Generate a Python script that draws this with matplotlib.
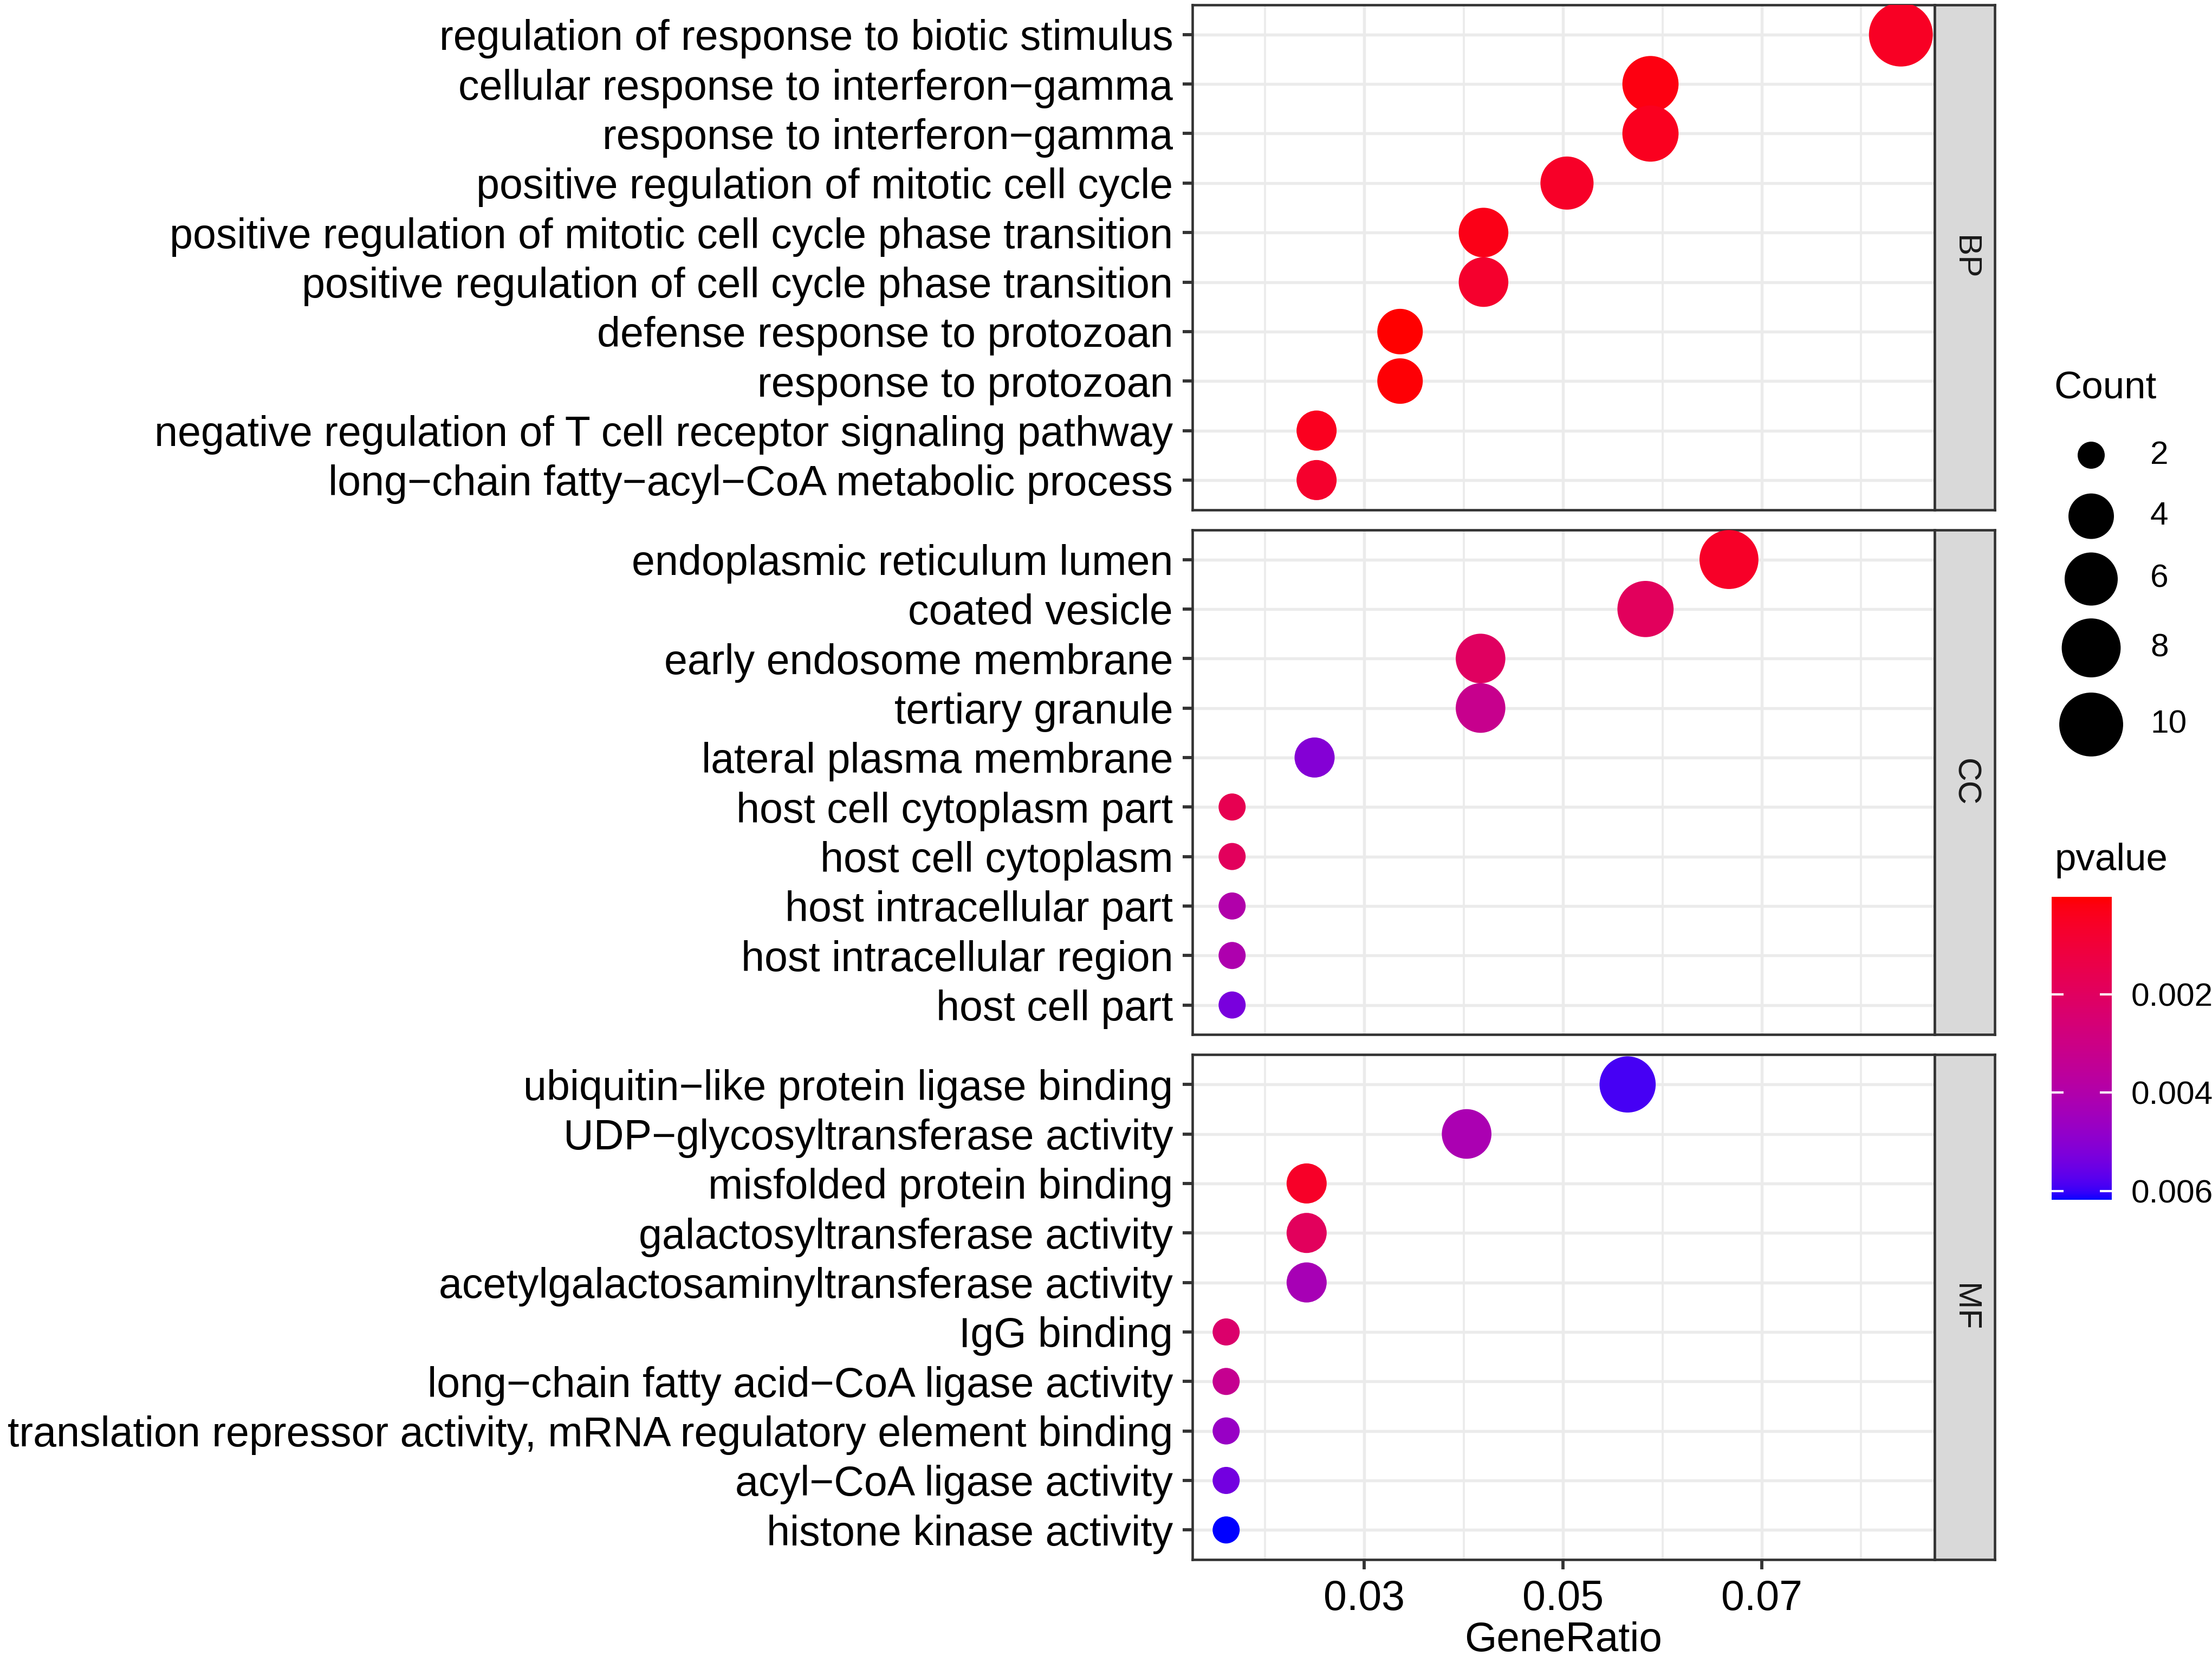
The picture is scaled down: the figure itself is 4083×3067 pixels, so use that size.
import numpy as np
import matplotlib
matplotlib.use('Agg')
import matplotlib.pyplot as plt
import matplotlib.colors as mcolors
from matplotlib.cm import ScalarMappable

plt.rcParams['font.family'] = ['Liberation Sans', 'DejaVu Sans']

# ── dados: enriquecimento GO (BP / CC / MF) ──
bp_terms = ['regulation of response to biotic stimulus',
            'cellular response to interferon−gamma',
            'response to interferon−gamma',
            'positive regulation of mitotic cell cycle',
            'positive regulation of mitotic cell cycle phase transition',
            'positive regulation of cell cycle phase transition',
            'defense response to protozoan',
            'response to protozoan',
            'negative regulation of T cell receptor signaling pathway',
            'long−chain fatty−acyl−CoA metabolic process']
bp_ratio = [0.0840, 0.0588, 0.0588, 0.0504, 0.0420, 0.0420, 0.0336, 0.0336, 0.0252, 0.0252]
bp_count = [10, 7, 7, 6, 5, 5, 4, 4, 3, 3]
bp_pvalue = [0.0005, 0.0002, 0.0004, 0.0006, 0.0003, 0.0007, 0.000013, 0.00007, 0.0004, 0.0007]

cc_terms = ['endoplasmic reticulum lumen',
            'coated vesicle',
            'early endosome membrane',
            'tertiary granule',
            'lateral plasma membrane',
            'host cell cytoplasm part',
            'host cell cytoplasm',
            'host intracellular part',
            'host intracellular region',
            'host cell part']
cc_ratio = [0.0667, 0.0583, 0.0417, 0.0417, 0.0250, 0.0167, 0.0167, 0.0167, 0.0167, 0.0167]
cc_count = [8, 7, 5, 5, 3, 2, 2, 2, 2, 2]
cc_pvalue = [0.0006, 0.0019, 0.0020, 0.0032, 0.0051, 0.0016, 0.0019, 0.0040, 0.0041, 0.0053]

mf_terms = ['ubiquitin−like protein ligase binding',
            'UDP−glycosyltransferase activity',
            'misfolded protein binding',
            'galactosyltransferase activity',
            'acetylgalactosaminyltransferase activity',
            'IgG binding',
            'long−chain fatty acid−CoA ligase activity',
            'translation repressor activity, mRNA regulatory element binding',
            'acyl−CoA ligase activity',
            'histone kinase activity']
mf_ratio = [0.0565, 0.0403, 0.0242, 0.0242, 0.0242, 0.0161, 0.0161, 0.0161, 0.0161, 0.0161]
mf_count = [7, 5, 3, 3, 3, 2, 2, 2, 2, 2]
mf_pvalue = [0.0059, 0.0042, 0.0006, 0.0019, 0.0043, 0.0023, 0.0033, 0.0047, 0.0054, 0.00618]

x_ticks = [0.03, 0.05, 0.07]
x_minor = [0.02, 0.04, 0.06, 0.08]
size_breaks = [2, 4, 6, 8, 10]
p_ticks = [0.002, 0.004, 0.006]

panels = [('BP', bp_terms, bp_ratio, bp_count, bp_pvalue),
          ('CC', cc_terms, cc_ratio, cc_count, cc_pvalue),
          ('MF', mf_terms, mf_ratio, mf_count, mf_pvalue)]

# ── layout em pixels da imagem final ──
W, H = 4083, 3067


def box(x0, y0, x1, y1):
    return [x0 / W, 1 - y1 / H, (x1 - x0) / W, (y1 - y0) / H]


# ── escala de cor vermelho -> azul interpolada em Lab (como ggplot) ──
WHITE = np.array([0.95047, 1.0, 1.08883])
M = np.array([[0.4124, 0.3576, 0.1805],
              [0.2126, 0.7152, 0.0722],
              [0.0193, 0.1192, 0.9505]])


def to_lab(color):
    rgb = np.array(mcolors.to_rgb(color))
    lin = np.where(rgb <= 0.04045, rgb / 12.92, ((rgb + 0.055) / 1.055) ** 2.4)
    xyz = M @ lin / WHITE
    d = 6 / 29
    f = np.where(xyz > d ** 3, np.cbrt(xyz), xyz / (3 * d ** 2) + 4 / 29)
    return np.array([116 * f[1] - 16, 500 * (f[0] - f[1]), 200 * (f[1] - f[2])])


def from_lab(lab):
    fy = (lab[0] + 16) / 116
    f = np.array([fy + lab[1] / 500, fy, fy - lab[2] / 200])
    d = 6 / 29
    xyz = np.where(f > d, f ** 3, 3 * d ** 2 * (f - 4 / 29)) * WHITE
    lin = np.linalg.solve(M, xyz)
    lin = np.clip(lin, 0, 1)
    rgb = np.where(lin <= 0.0031308, 12.92 * lin, 1.055 * lin ** (1 / 2.4) - 0.055)
    return np.clip(rgb, 0, 1)


lab_lo, lab_hi = to_lab('red'), to_lab('blue')
cmap = mcolors.ListedColormap([from_lab((1 - t) * lab_lo + t * lab_hi)
                               for t in np.linspace(0, 1, 256)])
all_p = np.concatenate([bp_pvalue, cc_pvalue, mf_pvalue])
norm = mcolors.Normalize(all_p.min(), all_p.max())


def dot_size(c):
    d = 12 + 16.3 * np.sqrt((np.asarray(c, dtype=float) - 2) / 8)
    return d ** 2


all_x = np.concatenate([bp_ratio, cc_ratio, mf_ratio])
pad = 0.05 * (all_x.max() - all_x.min())
xlim = (all_x.min() - pad, all_x.max() + pad)

fig = plt.figure(figsize=(W / 300, H / 300), dpi=300)

panel_h = 931.7
gap = 37
for i, (name, terms, ratio, count, pv) in enumerate(panels):
    top = 9 + i * (panel_h + gap)
    bottom = top + panel_h
    ax = fig.add_axes(box(2201, top, 3571, bottom))
    y = np.arange(len(terms))
    ax.scatter(ratio, y, s=dot_size(count), c=pv, cmap=cmap, norm=norm,
               linewidths=0, zorder=3)
    ax.set_xlim(*xlim)
    ax.set_ylim(len(terms) - 0.4, -0.6)
    ax.set_yticks(y)
    ax.set_yticklabels(terms)
    ax.set_xticks(x_ticks)
    ax.set_xticks(x_minor, minor=True)
    ax.set_axisbelow(True)
    ax.grid(which='major', color='#EBEBEB', linewidth=1.3)
    ax.grid(which='minor', axis='x', color='#EBEBEB', linewidth=0.9)
    ax.tick_params(which='major', length=4.3, width=1.4, color='#333333',
                   pad=4.3, labelsize=18.5, labelcolor='black')
    ax.tick_params(which='minor', length=0)
    for s in ax.spines.values():
        s.set_color('#333333')
        s.set_linewidth(1.1)
    if i < 2:
        ax.tick_params(axis='x', bottom=False, labelbottom=False)
    else:
        ax.set_xticklabels([f'{v:.2f}' for v in x_ticks])

    # faixa lateral do facet
    sax = fig.add_axes(box(3571, top, 3682, bottom))
    sax.set_facecolor('#D9D9D9')
    sax.set_xticks([])
    sax.set_yticks([])
    for s in sax.spines.values():
        s.set_color('#333333')
        s.set_linewidth(1.1)
    sax.text(0.5, 0.5, name, rotation=-90, ha='center', va='center',
             fontsize=14.5, color='#1A1A1A', transform=sax.transAxes)

fig.text((2201 + 3571) / 2 / W, 1 - 3028 / H, 'GeneRatio', ha='center', va='center',
         fontsize=18.3)

# ── legenda de tamanho (Count) ──
lax = fig.add_axes([0, 0, 1, 1], zorder=-1)
lax.set_xlim(0, W)
lax.set_ylim(H, 0)
lax.axis('off')
key_y = [840, 952.6, 1068.5, 1195.6, 1337]
lax.text(3791, 717, 'Count', ha='left', va='center', fontsize=17)
lax.scatter([3860] * len(size_breaks), key_y, s=dot_size(size_breaks), color='black',
            linewidths=0)
for b, ky in zip(size_breaks, key_y):
    lax.text(3969, ky, str(b), ha='left', va='center', fontsize=14.5)

# ── barra de cor (pvalue) ──
lax.text(3792, 1588, 'pvalue', ha='left', va='center', fontsize=17)
cax = fig.add_axes(box(3787, 1655, 3898, 2214))
cb = fig.colorbar(ScalarMappable(norm=norm, cmap=cmap), cax=cax)
cb.outline.set_visible(False)
cax.invert_yaxis()
cb.set_ticks(p_ticks)
cb.set_ticklabels([f'{v:.3f}' for v in p_ticks])
cax.tick_params(direction='in', color='white', length=5.3, width=1.0,
                left=True, right=True, labelsize=14.5, pad=8.6)

plt.savefig('out.png', dpi=300)
